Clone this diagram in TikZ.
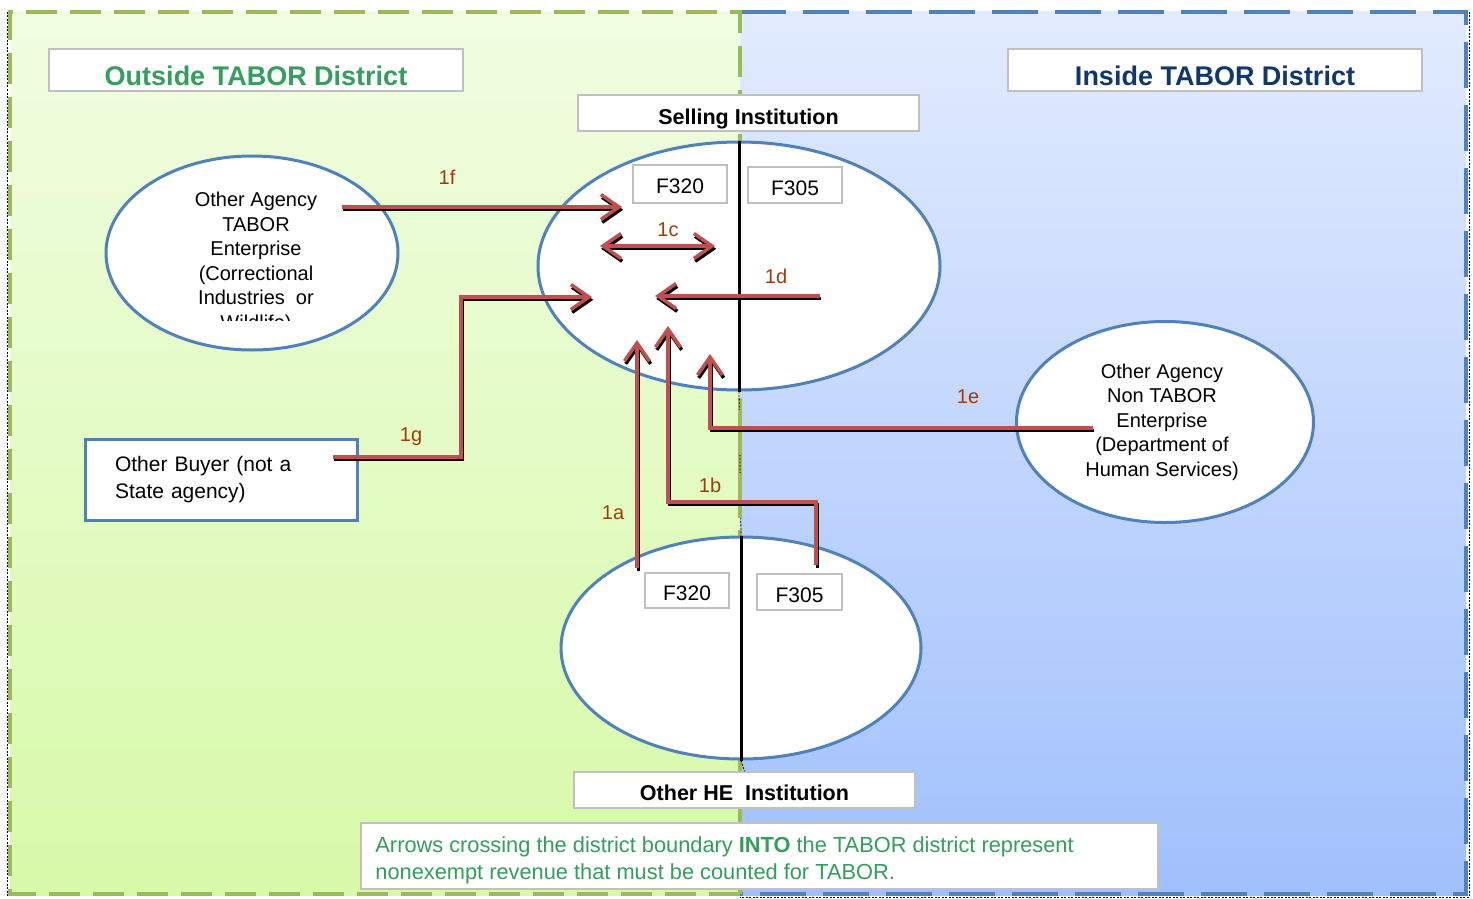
\documentclass[tikz,border=0pt]{standalone}
\usepackage{fontspec}
\setmainfont{Liberation Sans}
\usetikzlibrary{arrows.meta,shapes.geometric}
\definecolor{outgreen}{RGB}{155,187,89}
\definecolor{inblue}{RGB}{79,129,189}
\definecolor{flowred}{RGB}{192,80,77}
\definecolor{labbrown}{RGB}{160,60,10}
\definecolor{titlegreen}{RGB}{52,158,92}
\definecolor{titleblue}{RGB}{16,56,110}
\definecolor{boxgray}{RGB}{192,192,192}
\def\bodyfont{\fontsize{20}{24.5}\selectfont}
\def\boxfont{\fontsize{21}{27}\selectfont}
\def\notefont{\fontsize{21.8}{27}\selectfont}
\def\instfont{\fontsize{21.5}{26}\selectfont\bfseries}
\def\titlefont{\fontsize{27}{32}\selectfont\bfseries}

\tikzset{
  flowtip/.tip={Straight Barb[length=18pt,width=25pt,line width=3.5pt]},
  flow/.style={draw=flowred, line width=3.2pt, -flowtip,
    preaction={draw=black, line width=3pt, transform canvas={xshift=1.2pt,yshift=-2.8pt}}},
  agency/.style={ellipse, draw=inblue, line width=3pt, fill=white, inner sep=0pt},
  agencytext/.style={align=center, font=\bodyfont},
  titlebox/.style={draw=boxgray, line width=1.5pt, fill=white, inner xsep=0pt, inner ysep=0pt},
  flowlabel/.style={text=labbrown, font=\bodyfont, inner sep=0pt},
}

\begin{document}
\begin{tikzpicture}[x=1pt,y=-1pt]
			%%%%% START %%%%%
			\useasboundingbox (0,0) rectangle (1473,899);
			
			\fill[top color={rgb,255:red,240;green,253;blue,225}, bottom color={rgb,255:red,215;green,249;blue,168}] (10,12) rectangle (740,895);
			\fill[top color={rgb,255:red,226;green,235;blue,254}, bottom color={rgb,255:red,160;green,192;blue,252}] (740,12) rectangle (1466,895);
			
			\draw[line width=0.8pt, dash pattern=on 2pt off 1.5pt] (7,12) -- (7,897);
			\draw[line width=0.8pt, dash pattern=on 2pt off 1.5pt] (1469,12) -- (1469,897) -- (740,897);
			\draw[inblue, line width=4.5pt, dash pattern=on 46pt off 17pt] (740,12) -- (1466,12) -- (1466,894) -- (740,894);
			\draw[outgreen, line width=4.5pt, dash pattern=on 31pt off 13pt] (740,894) -- (10,894) -- (10,12) -- (740,12) -- cycle;
			
			\node[titlebox, minimum width=414pt, text height=36pt, text depth=6pt, font=\titlefont, text=titlegreen] (outside-box) at (256,70) {Outside TABOR District};
			\node[titlebox, minimum width=414pt, text height=36pt, text depth=6pt, font=\titlefont, text=titleblue] (inside-box) at (1215,70) {Inside TABOR District};
			
			\node[agency, minimum width=292pt, minimum height=194pt] (tabor-ent) at (252,253) {};
			\begin{scope}
				\clip (100,150) rectangle (400,320);
				\node[agencytext] (tabor-text) at (256,263) {Other Agency\\TABOR\\Enterprise\\(Correctional\\Industries~~or\\Wildlife)};
			\end{scope}
			
			\node[agency, minimum width=297pt, minimum height=201pt] (nontabor-ent) at (1165,422) {};
			\node[agencytext] (nontabor-text) at (1162,422) {Other Agency\\Non TABOR\\Enterprise\\(Department of\\Human Services)};
			
			\node[agency, minimum width=402pt, minimum height=248pt] (selling) at (739,266) {};
			\node[agency, minimum width=360pt, minimum height=222pt] (other-he) at (741,648) {};
			\draw[line width=3pt] (selling.north) -- (selling.south);
			\draw[line width=3pt] (other-he.north) -- (other-he.south);
			\draw[line width=0.8pt, dash pattern=on 2pt off 1.5pt] (selling.south) -- (other-he.north);
			\draw[outgreen, line width=4.5pt] (740,410) -- (740,455);
			\draw[outgreen, line width=4.5pt] (740,473) -- (740,518);
			
			\node[titlebox, minimum width=341pt, text height=29pt, text depth=7pt, font=\instfont] (sell-box) at (748.5,113) {Selling Institution};
			\node[titlebox, minimum width=341pt, text height=28.8pt, text depth=7.2pt, font=\instfont] (he-box) at (744.5,790) {Other HE~~Institution};
			\draw[line width=0.8pt, dash pattern=on 2pt off 1.5pt] (other-he.south) -- (he-box.north);
			
			\node[titlebox, minimum width=94pt, text height=28.5pt, text depth=9.5pt, font=\boxfont] (sell-f320) at (680,184) {F320};
			\node[titlebox, minimum width=94pt, text height=28.5pt, text depth=7.5pt, font=\boxfont] (sell-f305) at (795,185) {F305};
			\node[titlebox, minimum width=84pt, text height=27.5pt, text depth=7.5pt, font=\boxfont] (he-f320) at (687,590.5) {F320};
			\node[titlebox, minimum width=85pt, text height=28.5pt, text depth=7.5pt, font=\boxfont] (he-f305) at (799.5,592) {F305};
			
			\node[draw=inblue, line width=3pt, fill=white, minimum width=272pt, minimum height=81pt, text width=212pt, inner xsep=30pt, align=left, font=\boxfont] (buyer) at (221,479.5) {Other Buyer (not a\\State agency)};
			
			\node[titlebox, minimum width=797pt, minimum height=66pt] (note-box) at (759.5,856) {};
			\node[anchor=west, align=left, inner sep=0pt, font=\notefont, text=titlegreen] (note-text) at ([xshift=15pt,yshift=-4.7pt]note-box.west) {Arrows crossing the district boundary \textbf{INTO} the TABOR district represent\\nonexempt revenue that must be counted for TABOR.};
			
			\coordinate (f-from) at (342,207);
			\coordinate (f-to) at (622,207);
			\coordinate (c-left) at (600,246);
			\coordinate (c-right) at (715,246);
			\coordinate (d-from) at (820,296);
			\coordinate (d-to) at (655,296);
			\coordinate (g-from) at (333,457);
			\coordinate (g-bend) at (461,297);
			\coordinate (g-to) at (592,297);
			\coordinate (e-from) at (1093,428);
			\coordinate (e-to) at (710,354);
			\coordinate (a-from) at (637,568);
			\coordinate (a-to) at (637,340);
			\coordinate (b-from) at (816,565);
			\coordinate (b-bend) at (668,502);
			\coordinate (b-to) at (668,326);
			
			\draw[flow] (f-from) -- (f-to);
			\draw[flow, flowtip-flowtip] (c-left) -- (c-right);
			\draw[flow] (d-from) -- (d-to);
			\draw[flow] (g-from) -| (g-bend) -- (g-to);
			\draw[flow] (e-from) -| (e-to);
			\draw[flow] (a-from) -- (a-to);
			\draw[flow] (b-from) |- (b-bend) -- (b-to);
			
			\node[flowlabel] (lab-1f) at (447,177) {1f};
			\node[flowlabel] (lab-1c) at (668,230) {1c};
			\node[flowlabel] (lab-1d) at (776,276) {1d};
			\node[flowlabel] (lab-1g) at (411,437) {1g};
			\node[flowlabel] (lab-1e) at (968,397) {1e};
			\node[flowlabel] (lab-1a) at (613,513) {1a};
			\node[flowlabel] (lab-1b) at (710,485) {1b};
			
			%%%%% END %%%%%
\end{tikzpicture}
\end{document}
